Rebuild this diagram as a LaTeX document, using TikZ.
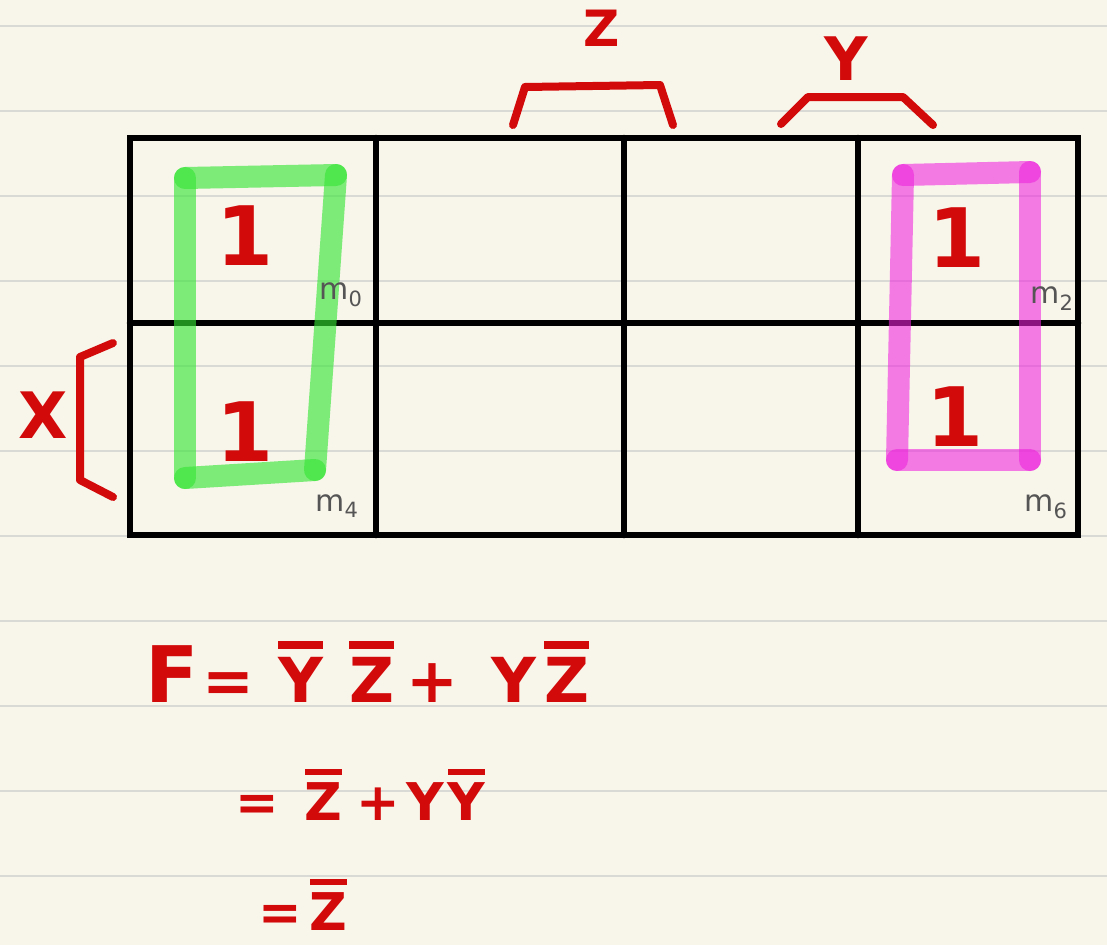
\documentclass[tikz,border=0pt]{standalone}
\usepackage{fontspec}
\setmainfont{DejaVu Sans}
\definecolor{paper}{HTML}{F8F5EA}
\definecolor{ruled}{HTML}{D9D9D6}
\definecolor{inkred}{HTML}{D20A0A}
\definecolor{hlgreen}{HTML}{33E633}
\definecolor{hlpink}{HTML}{EE22DD}
\definecolor{mgray}{HTML}{555555}
\newcommand\ov[1]{\vbox{\hrule height 0.13em\kern 0.13em\hbox{#1}}}
\newcommand\fs[1]{\fontsize{#1}{#1}\selectfont}
\begin{document}
\begin{tikzpicture}[x=1pt,y=-1pt,
  ruleline/.style={draw=ruled,line width=1.8pt},
  gridline/.style={draw=black,line width=6.5pt,line cap=round},
  bracket/.style={draw=inkred,line width=8pt,line cap=round,line join=round},
  hlg/.style={draw=hlgreen,line width=22pt,line cap=round,opacity=0.62},
  hlp/.style={draw=hlpink,line width=22pt,line cap=round,opacity=0.58},
  redtxt/.style={text=inkred,inner sep=0pt,font=\bfseries},
  onebox/.style={text=inkred,inner sep=0pt,font=\bfseries\fs{82}},
  mlab/.style={text=mgray,inner sep=0pt,font=\fs{30}}]
\fill[paper] (0,0) rectangle (1107,945);
\useasboundingbox (0,0) rectangle (1107,945);
% ruled paper
\foreach \yy in {26,111,196,281,366,451,536,621,706,791,876}
  \draw[ruleline] (0,\yy) -- (1107,\yy);
% grid
\draw[gridline] (130,138) rectangle (1078,535);
\draw[gridline] (130,323) -- (1078,323);
\draw[gridline] (376,138) -- (376,535);
\draw[gridline] (624,138) -- (624,535);
\draw[gridline] (858,138) -- (858,535);
% highlights
\coordinate (g1) at (185,178); \coordinate (g2) at (336,175);
\coordinate (g3) at (315,470); \coordinate (g4) at (185,478);
\draw[hlg] (g1) -- (g2); \draw[hlg] (g2) -- (g3);
\draw[hlg] (g3) -- (g4); \draw[hlg] (g4) -- (g1);
\coordinate (p1) at (903,175); \coordinate (p2) at (1030,172);
\coordinate (p3) at (1030,460); \coordinate (p4) at (897,460);
\draw[hlp] (p1) -- (p2); \draw[hlp] (p2) -- (p3);
\draw[hlp] (p3) -- (p4); \draw[hlp] (p4) -- (p1);
% cell contents
\node[onebox] (c0) at (245,236) {1};
\node[onebox] (c4) at (245,432) {1};
\node[onebox] (c2) at (957,238) {1};
\node[onebox] (c6) at (955,417) {1};
\node[mlab] (m0) at (341,295) {m\textsubscript{0}};
\node[mlab] (m4) at (337,506) {m\textsubscript{4}};
\node[mlab] (m2) at (1052,299) {m\textsubscript{2}};
\node[mlab] (m6) at (1046,507) {m\textsubscript{6}};
% variable labels and brackets
\node[redtxt,font=\bfseries\fs{50}] (zl) at (602,28) {Z};
\draw[bracket] (513,125) -- (525,87) -- (660,85) -- (673,125);
\node[redtxt,font=\bfseries\fs{60}] (yl) at (846,59) {Y};
\draw[bracket] (781,124) -- (808,97) -- (903,97) -- (933,125);
\node[redtxt,font=\bfseries\fs{64}] (xl) at (43,415) {X};
\draw[bracket] (113,343) -- (80,357) -- (80,480) -- (113,497);
% equations
\node[redtxt,anchor=base west,font=\bfseries\fs{62}] (eq1) at (145,702)
  {{\fs{78}F}\hspace{4pt}=\hspace{24pt}\ov{Y}\hspace{26pt}\ov{Z}\hspace{12pt}+\hspace{33pt}Y\hspace{8pt}\ov{Z}};
\node[redtxt,anchor=base west,font=\bfseries\fs{52}] (eq2) at (235,820)
  {=\hspace{26pt}\ov{Z}\hspace{14pt}+\hspace{6pt}Y\hspace{4pt}\ov{Y}};
\node[redtxt,anchor=base west,font=\bfseries\fs{52}] (eq3) at (258,930)
  {=\hspace{8pt}\ov{Z}};
\end{tikzpicture}
\end{document}
